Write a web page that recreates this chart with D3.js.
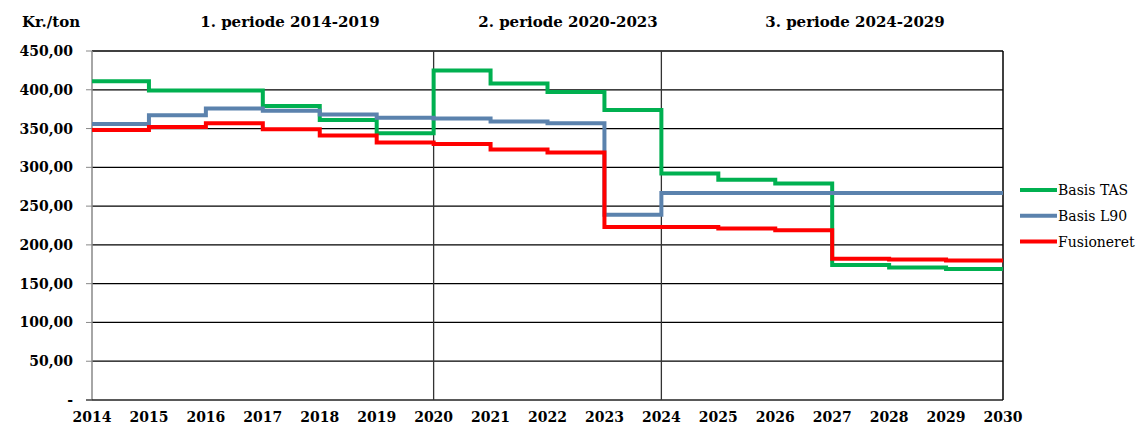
<!DOCTYPE html>
<meta charset="utf-8">
<head>
 <title>Kr./ton</title>
</head>
<style>
body { margin: 0; background: #fff; }
text { font-family: "DejaVu Serif", serif; }
</style>
<body>
 <svg id="chart" width="1136" height="425"></svg>
 <script src="https://d3js.org/d3.v7.min.js"></script>
 <script>
// years on the x axis, each value holds from that year to the next
var years = [2014, 2015, 2016, 2017, 2018, 2019, 2020, 2021, 2022, 2023, 2024, 2025, 2026, 2027, 2028, 2029, 2030]
var basisTAS = [411, 399, 399, 379, 361, 344, 425, 408, 397, 374, 292, 284, 279, 174, 171, 169]
var basisL90 = [356, 367, 376, 373, 368, 364, 363, 359, 357, 239, 267, 267, 267, 267, 267, 267]
var fusioneret = [348, 352, 357, 349, 341, 332, 330, 323, 319, 223, 223, 221, 219, 182, 181, 180]
var seriesNames = ["Basis TAS", "Basis L90", "Fusioneret"]
var seriesColors = ["#00b050", "#5b82ad", "#ff0000"]
var yTicks = [0, 50, 100, 150, 200, 250, 300, 350, 400, 450]
var periods = ["1. periode 2014-2019", "2. periode 2020-2023", "3. periode 2024-2029"]
var periodLines = [2020, 2024]

var svg = d3.select('#chart')
var plotL = 92, plotR = 1003, plotT = 51, plotB = 400

var x = d3.scaleLinear().domain([2014, 2030]).range([plotL, plotR])
var y = d3.scaleLinear().domain([0, 450]).range([plotB, plotT])

// horizontal grid
svg.append('g').selectAll('line')
  .data(yTicks.filter(function(d) { return d > 0 }))
  .enter().append('line')
  .attr('x1', plotL).attr('x2', plotR)
  .attr('y1', function(d) { return y(d) }).attr('y2', function(d) { return y(d) })
  .attr('stroke', '#000').attr('stroke-width', 1.3)

// left axis, bottom, right border
svg.append('line').attr('x1', plotL).attr('x2', plotL).attr('y1', plotT).attr('y2', plotB)
  .attr('stroke', '#888').attr('stroke-width', 1.5)
svg.append('line').attr('x1', plotL - 6).attr('x2', plotR).attr('y1', plotB).attr('y2', plotB)
  .attr('stroke', '#222').attr('stroke-width', 1.5)
svg.append('line').attr('x1', plotR).attr('x2', plotR).attr('y1', plotT).attr('y2', plotB)
  .attr('stroke', '#000').attr('stroke-width', 1.5)

// period separators
svg.append('g').selectAll('line')
  .data(periodLines).enter().append('line')
  .attr('x1', function(d) { return x(d) }).attr('x2', function(d) { return x(d) })
  .attr('y1', plotT).attr('y2', plotB)
  .attr('stroke', '#333').attr('stroke-width', 1.3)

// y tick marks and labels
var fmt = function(d) { return d === 0 ? '-' : d3.format('.2f')(d).replace('.', ',') }
var yAxis = svg.append('g')
yAxis.selectAll('line').data(yTicks).enter().append('line')
  .attr('x1', plotL - 6).attr('x2', plotL)
  .attr('y1', function(d) { return y(d) }).attr('y2', function(d) { return y(d) })
  .attr('stroke', '#888')
yAxis.selectAll('text').data(yTicks).enter().append('text')
  .attr('x', 73).attr('y', function(d) { return y(d) + 5 })
  .attr('text-anchor', 'end')
  .attr('font-size', 14).attr('font-weight', 'bold')
  .text(fmt)

// x labels
svg.append('g').selectAll('text').data(years).enter().append('text')
  .attr('x', function(d) { return x(d) }).attr('y', 422)
  .attr('text-anchor', 'middle')
  .attr('font-size', 14).attr('font-weight', 'bold')
  .text(function(d) { return d })

// titles
svg.append('text').attr('x', 22).attr('y', 27)
  .attr('font-size', 15).attr('font-weight', 'bold').text('Kr./ton')
var periodX = [290, 568, 855]
svg.append('g').selectAll('text').data(periods).enter().append('text')
  .attr('x', function(d, i) { return periodX[i] })
  .attr('y', 27)
  .attr('text-anchor', 'middle')
  .attr('font-size', 15).attr('font-weight', 'bold')
  .text(function(d) { return d })

// step lines
var line = d3.line()
  .x(function(d) { return x(d.year) })
  .y(function(d) { return y(d.value) })
  .curve(d3.curveStepAfter)

function toPoints(vals) {
  return years.map(function(yr, i) {
    return {year: yr, value: vals[Math.min(i, vals.length - 1)]}
  })
}

var allSeries = [basisTAS, basisL90, fusioneret]
svg.append('g').selectAll('path').data(allSeries).enter().append('path')
  .attr('d', function(d) { return line(toPoints(d)) })
  .attr('fill', 'none')
  .attr('stroke', function(d, i) { return seriesColors[i] })
  .attr('stroke-width', 4)

// legend
var legend = svg.append('g').selectAll('g').data(seriesNames).enter().append('g')
  .attr('transform', function(d, i) { return 'translate(1020,' + (190 + i * 25.8) + ')' })
legend.append('line').attr('x1', 0).attr('x2', 37).attr('y1', 0).attr('y2', 0)
  .attr('stroke', function(d, i) { return seriesColors[i] }).attr('stroke-width', 4)
legend.append('text').attr('x', 38).attr('y', 5)
  .attr('font-size', 14).text(function(d) { return d })
 </script>
</body>
</html>
